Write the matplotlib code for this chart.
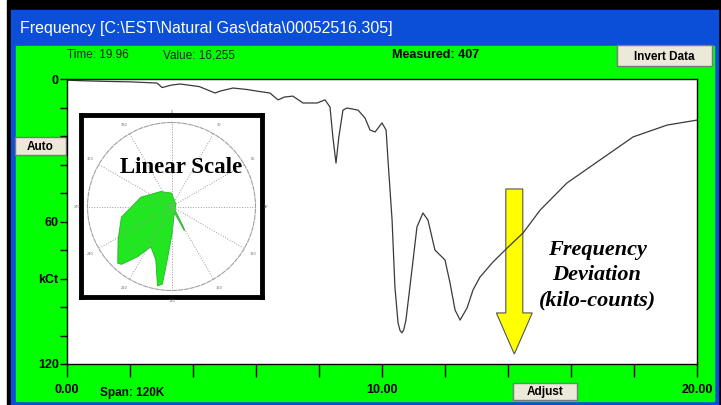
import numpy as np
import matplotlib.pyplot as plt
from matplotlib.patches import Rectangle, FancyArrow
from matplotlib.colors import LinearSegmentedColormap

# hodnoty odečtené ze snímku obrazovky
cas = [0.0, 0.4, 1.2, 2.0, 2.86, 3.02, 3.3, 3.59, 4.2, 4.70, 4.86, 5.27, 5.7, 6.03,
       6.44, 6.70, 6.9, 7.17, 7.49, 7.94, 8.19, 8.35, 8.44, 8.54, 8.63, 8.76, 8.89,
       9.24, 9.46, 9.62, 9.78, 10.0, 10.13, 10.19, 10.32, 10.41, 10.51, 10.57, 10.63,
       10.69, 10.76, 10.95, 11.11, 11.30, 11.46, 11.68, 11.84, 12.0, 12.16, 12.32,
       12.48, 12.70, 12.89, 13.11, 13.52, 13.97, 14.48, 15.02, 15.87, 16.92, 17.97,
       19.05, 20.0]
kct = [0.5, 0.7, 1.0, 1.2, 1.7, 3.6, 2.6, 2.1, 3.2, 5.9, 5.1, 3.8, 4.4, 5.1,
       5.9, 8.8, 7.6, 7.2, 10.1, 10.1, 8.8, 11.8, 24.4, 35.4, 24.4, 13.1, 12.2,
       13.1, 16.4, 21.5, 22.3, 18.5, 21.5, 34.1, 59.4, 87.6, 102.7, 105.8, 106.9,
       105.6, 101.5, 80.4, 62.3, 56.4, 59.4, 72.0, 74.1, 76.2, 85.9, 97.3,
       101.5, 96.4, 88.8, 83.4, 77.1, 71.2, 64.8, 55.2, 43.8, 34.1, 24.4,
       19.4, 17.3]

# polární vložený graf (úhel ve stupních, poloměr 0..1)
uhly = [0, 60, 90, 135, 150, 152, 155, 178.6, 184.6, 186.7, 190, 196.5, 207, 214,
        220.8, 223.5, 238, 258, 287, 324, 360]
polomery = [0.16, 0.06, 0.05, 0.06, 0.30, 0.33, 0.08, 0.32, 0.64, 0.93, 0.96, 0.66,
            0.54, 0.72, 0.91, 0.93, 0.75, 0.61, 0.38, 0.22, 0.16]

y_ticks = list(range(0, 121, 12))
y_labels = ['0', '', '', '', '', '60', '', 'kCt', '', '', '120']
x_ticks = list(range(0, 21, 2))
x_labels = ['0.00', '', '', '', '', '10.00', '', '', '', '', '20.00']

W, H = 721, 405
narrow = ['Liberation Sans', 'DejaVu Sans']
serif = ['Liberation Serif', 'DejaVu Serif']

fig = plt.figure(figsize=(W / 100, H / 100), dpi=100)

# pozadí okna (souřadnice v pixelech)
bg = fig.add_axes([0, 0, 1, 1])
bg.axis('off')
bg.add_patch(Rectangle((7, 0), W - 7, H, color='black'))
bg.add_patch(Rectangle((11, 10), 707, 395, color='#0B4FD9'))
cmap = LinearSegmentedColormap.from_list('xp', ['#2F6CEB', '#5A9CFF', '#1663F0', '#0A57E6', '#0850DA', '#0746C8'])
bg.imshow(np.linspace(0, 1, 40).reshape(-1, 1), cmap=cmap, aspect='auto', extent=(11, 718, 46, 10))
bg.add_patch(Rectangle((16, 46), 698, 355, color='#00FF00'))
bg.set_xlim(0, W)
bg.set_ylim(H, 0)

bg.text(20, 28, 'Frequency [C:\\EST\\Natural Gas\\data\\00052516.305]', color='white',
        fontsize=11.5, family=narrow, va='center', ha='left')
bg.text(67, 55, 'Time: 19.96', fontsize=8.5, family=narrow, va='center', color='#222222')
bg.text(163, 55, 'Value: 16,255', fontsize=8.5, family=narrow, va='center', color='#222222')
bg.text(392, 55, 'Measured: 407', fontsize=9, family=narrow, weight='bold', va='center')
bg.text(100, 393, 'Span: 120K', fontsize=8.5, family=narrow, weight='bold', va='center')

# tlačítka
for (x0, y0, w, h, txt) in [(617, 45, 95, 21, 'Invert Data'), (15, 137, 51, 18, 'Auto'),
                            (513, 383, 64, 17, 'Adjust')]:
    bg.add_patch(Rectangle((x0, y0), w, h, facecolor='#ECE9D8', edgecolor='#7A7A7A', lw=1))
    bg.text(x0 + w / 2, y0 + h / 2 + 1, txt, fontsize=8.5, family=narrow, weight='bold',
            ha='center', va='center')

# hlavní graf
ax = fig.add_axes([67 / W, 1 - 364 / H, 630 / W, 285 / H])
ax.set_facecolor('white')
ax.plot(cas, kct, color='#3A3A3A', lw=0.9)
ax.set_xlim(0, 20)
ax.set_ylim(120, 0)
ax.set_yticks(y_ticks)
ax.set_yticklabels(y_labels)
ax.set_xticks(x_ticks)
ax.set_xticklabels(x_labels)
ax.tick_params(axis='y', length=5, width=1, pad=1, labelsize=9)
ax.tick_params(axis='x', length=9.5, width=1, pad=5, labelsize=9)
for lab in ax.get_xticklabels() + ax.get_yticklabels():
    lab.set_fontweight('bold')
    lab.set_family(narrow)
for s in ax.spines.values():
    s.set_color('black')
    s.set_linewidth(1)

# žlutá šipka a popisek
ax.add_patch(FancyArrow(14.2, 46.3, 0, 69.5, width=0.54, head_width=1.14, head_length=17.3,
                        length_includes_head=True, facecolor='#FFFF00', edgecolor='#555555', lw=0.8))
fig.text(597 / W, 1 - 275 / H, 'Frequency\nDeviation\n(kilo-counts)', family=serif,
         style='italic', weight='bold', fontsize=16, ha='center', va='center', linespacing=1.35)

# vložený rámeček s polárním grafem
box = fig.add_axes([81 / W, 1 - 297 / H, 181 / W, 182 / H])
box.set_xticks([])
box.set_yticks([])
box.set_facecolor('white')
for s in box.spines.values():
    s.set_linewidth(3.5)
    s.set_color('black')
box.set_zorder(2)

pol = fig.add_axes([(171.5 - 84) / W, 1 - (206.5 + 84) / H, 168 / W, 168 / H], projection='polar')
pol.set_zorder(3)
pol.patch.set_alpha(0)
pol.set_theta_zero_location('N')
pol.set_theta_direction(-1)
pol.fill(np.radians(uhly), polomery, facecolor='#22E622', edgecolor='#1FB81F', lw=0.6)
pol.set_ylim(0, 1)
pol.set_yticks([])
pol.set_xticks(np.radians(range(0, 360, 30)))
pol.set_xticklabels([str(a) for a in range(0, 360, 30)], fontsize=2.5, color='#666666')
pol.tick_params(axis='x', pad=-3)
pol.grid(True, linestyle=':', color='#9A9A9A', lw=0.7)
pol.spines['polar'].set_linestyle('--')
pol.spines['polar'].set_color('#A0A0A0')
pol.spines['polar'].set_linewidth(0.8)

fig.text(181 / W, 1 - 168 / H, 'Linear Scale', family=serif, weight='bold', fontsize=16.5,
         ha='center', va='center', zorder=10)

fig.savefig('out.png', dpi=100)
